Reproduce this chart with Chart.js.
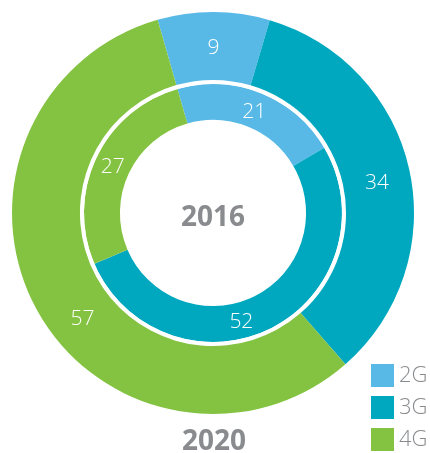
<!DOCTYPE html>
<html>
<head>
<meta charset="utf-8">
<script src="https://cdn.jsdelivr.net/npm/chart.js@4/dist/chart.umd.min.js"></script>
<style>
  html, body { margin: 0; padding: 0; background: #fff; }
  #wrap { position: relative; width: 430px; height: 453px; }
</style>
</head>
<body>
<div id="wrap"><canvas id="ringChart" width="430" height="453"></canvas></div>
<script>
var labels = ['2G', '3G', '4G'];
var share2020 = [9, 34, 57];
var share2016 = [21, 52, 27];
var colors = ['#58b9e7', '#00a8bf', '#84c341'];
var centerTitle = '2016';
var bottomTitle = '2020';

var greyText = '#898b8e';

// white numbers inside each arc, nudged along the ring (degrees) where needed
var arcLabels = {
	id: 'arcLabels',
	afterDatasetsDraw: function(chart) {
		var ctx = chart.ctx;
		ctx.save();
		ctx.fillStyle = '#fff';
		ctx.font = '300 21px "Open Sans"';
		ctx.textAlign = 'center';
		ctx.textBaseline = 'middle';
		chart.data.datasets.forEach(function(ds, i) {
			if (!ds.showValues) return;
			chart.getDatasetMeta(i).data.forEach(function(arc, j) {
				var nudge = (ds.labelNudge ? ds.labelNudge[j] : 0) * Math.PI / 180;
				var a = (arc.startAngle + arc.endAngle) / 2 + nudge;
				var r = (arc.innerRadius + arc.outerRadius) / 2;
				ctx.fillText(ds.data[j], arc.x + Math.cos(a) * r, arc.y + Math.sin(a) * r + 2);
			});
		});
		ctx.restore();
	}
};

// year titles and the small legend in the corner
var extras = {
	id: 'extras',
	afterDraw: function(chart) {
		var ctx = chart.ctx;
		var area = chart.chartArea;
		var cx = (area.left + area.right) / 2;
		var cy = (area.top + area.bottom) / 2;
		ctx.save();
		ctx.fillStyle = greyText;
		ctx.textAlign = 'center';
		ctx.textBaseline = 'middle';
		ctx.font = 'bold 28px "Open Sans"';
		ctx.fillText(centerTitle, cx, cy + 5);
		ctx.fillText(bottomTitle, cx + 1, 442);

		ctx.textAlign = 'left';
		ctx.font = '300 22px "Open Sans"';
		labels.forEach(function(lab, i) {
			var y = 364 + i * 32;
			ctx.fillStyle = colors[i];
			ctx.fillRect(371, y, 23, 23);
			ctx.fillStyle = greyText;
			ctx.fillText(lab, 399, y + 12);
		});
		ctx.restore();
	}
};

var ctx = document.getElementById('ringChart');
var ringChart = new Chart(ctx, {
	type: 'doughnut',
	data: {
		labels: labels,
		datasets: [{
			data: share2020,
			backgroundColor: colors,
			borderWidth: 0,
			weight: 68,
			showValues: true,
			labelNudge: [0, 1.5, -10]
		}, {
			// thin white ring between the two years
			data: [1],
			backgroundColor: ['#ffffff'],
			borderWidth: 0,
			weight: 4,
			showValues: false
		}, {
			data: share2016,
			backgroundColor: colors,
			borderWidth: 0,
			weight: 36,
			showValues: true,
			labelNudge: [0, 12, 0]
		}]
	},
	options: {
		responsive: false,
		maintainAspectRatio: false,
		animation: false,
		rotation: -16,
		cutout: '46.3%',
		layout: { padding: { left: 12, top: 12, right: 16, bottom: 39 } },
		plugins: {
			legend: { display: false },
			tooltip: { enabled: false }
		},
		events: []
	},
	plugins: [arcLabels, extras]
});
</script>
</body>
</html>
